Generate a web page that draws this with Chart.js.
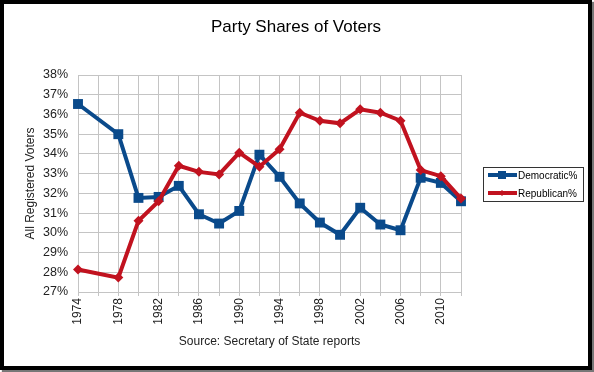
<!DOCTYPE html>
<html>
<head>
<meta charset="utf-8">
<script src="https://cdn.jsdelivr.net/npm/chart.js@4/dist/chart.umd.min.js"></script>
<style>
  body { margin: 0; background: #fff; }
  #frame {
    position: absolute; left: 0; top: 0;
    width: 584px; height: 362px;
    border: 4px solid #000;
    box-shadow: 2px 2px 1px #777;
    background: #fff;
  }
  canvas { display: block; }
</style>
</head>
<body>
<div id="frame"><canvas id="partyChart" width="584" height="362"></canvas></div>
<script>
// election years, 1976 has no data
const years = ['1974', '1976', '1978', '1980', '1982', '1984', '1986', '1988', '1990', '1992',
    '1994', '1996', '1998', '2000', '2002', '2004', '2006', '2008', '2010', '2012'];
const democratic = [36.53, null, 35.0, 31.77, 31.82, 32.38, 30.94, 30.47, 31.11, 33.96,
    32.84, 31.49, 30.52, 29.90, 31.27, 30.42, 30.13, 32.79, 32.53, 31.60];
const republican = [28.14, null, 27.73, 30.61, 31.60, 33.40, 33.09, 32.96, 34.06, 33.35,
    34.24, 36.09, 35.68, 35.55, 36.26, 36.09, 35.68, 33.18, 32.87, 31.74];
const yMin = 27;
const yMax = 38;

const blue = '#0a4a8b';
const red = '#c1121f';
const gridColor = '#c4c4c4';
const font = '"Liberation Sans", Arial, sans-serif';

// boxed legend at the right of the plot area
const boxLegend = {
    id: 'boxLegend',
    afterDraw: (chart) => {
        const ctx = chart.ctx;
        const area = chart.chartArea;
        const x = area.right + 22;
        const y = 163;
        ctx.save();
        ctx.strokeStyle = '#333';
        ctx.lineWidth = 1;
        ctx.strokeRect(x + 0.5, y + 0.5, 100, 34);
        ctx.font = '10px ' + font;
        ctx.textBaseline = 'middle';
        chart.data.datasets.forEach((ds, i) => {
            const ly = y + 8 + i * 18;
            ctx.strokeStyle = ds.borderColor;
            ctx.lineWidth = 4;
            ctx.beginPath();
            ctx.moveTo(x + 5, ly);
            ctx.lineTo(x + 34, ly);
            ctx.stroke();
            ctx.fillStyle = ds.borderColor;
            if (ds.pointStyle === 'rect') {
                ctx.fillRect(x + 15, ly - 4, 8, 8);
            } else {
                ctx.beginPath();
                ctx.moveTo(x + 19, ly - 3);
                ctx.lineTo(x + 22, ly);
                ctx.lineTo(x + 19, ly + 3);
                ctx.lineTo(x + 16, ly);
                ctx.closePath();
                ctx.fill();
            }
            ctx.fillStyle = '#000';
            ctx.fillText(ds.label, x + 35, ly + 1);
        });
        ctx.restore();
    }
};

const chart = new Chart(document.getElementById('partyChart'), {
    type: 'line',
    data: {
        labels: years,
        datasets: [{
            label: 'Democratic%',
            data: democratic,
            borderColor: blue,
            backgroundColor: blue,
            borderWidth: 4,
            pointStyle: 'rect',
            pointRadius: 7,
            pointBorderWidth: 0,
            spanGaps: true,
            tension: 0,
            order: 1,
        }, {
            label: 'Republican%',
            data: republican,
            borderColor: red,
            backgroundColor: red,
            borderWidth: 4,
            pointStyle: 'rectRot',
            pointRadius: 5,
            pointBorderWidth: 0,
            spanGaps: true,
            tension: 0,
            order: 0,
        }]
    },
    options: {
        responsive: false,
        animation: false,
        layout: {
            padding: 0
        },
        plugins: {
            legend: { display: false },
            tooltip: { enabled: false },
            title: {
                display: true,
                text: 'Party Shares of Voters',
                color: '#000',
                font: { family: font, size: 17, weight: 'normal' },
                padding: { top: 13, bottom: 37.6 }
            }
        },
        scales: {
            x: {
                offset: false,
                afterFit: (scale) => { scale.height = 74; },
                grid: { color: gridColor, tickLength: 4, tickColor: gridColor },
                border: { color: gridColor },
                ticks: {
                    autoSkip: false,
                    minRotation: 90,
                    maxRotation: 90,
                    padding: 2,
                    color: '#222',
                    font: { family: font, size: 12 },
                    callback: (v, i) => (i % 2 === 0 ? years[i] : '')
                },
                title: {
                    display: true,
                    text: 'Source: Secretary of State reports',
                    color: '#222',
                    font: { family: font, size: 12 },
                    padding: { top: 0, bottom: 17 }
                }
            },
            y: {
                min: yMin,
                max: yMax,
                afterFit: (scale) => { scale.width = 74; },
                grid: { color: gridColor, drawTicks: false },
                border: { color: gridColor },
                ticks: {
                    stepSize: 1,
                    padding: 10,
                    color: '#222',
                    font: { family: font, size: 12.5 },
                    callback: (v) => v + '%'
                },
                title: {
                    display: true,
                    text: 'All Registered Voters',
                    color: '#222',
                    font: { family: font, size: 12 },
                    padding: { top: 19, bottom: 0 }
                }
            },
            // empty right-hand axis that keeps room for the legend box
            yRight: {
                position: 'right',
                min: yMin,
                max: yMax,
                afterFit: (scale) => { scale.width = 127; },
                grid: { drawOnChartArea: false, drawTicks: false },
                border: { display: false },
                ticks: { display: false }
            }
        }
    },
    plugins: [boxLegend],
});
</script>
</body>
</html>
